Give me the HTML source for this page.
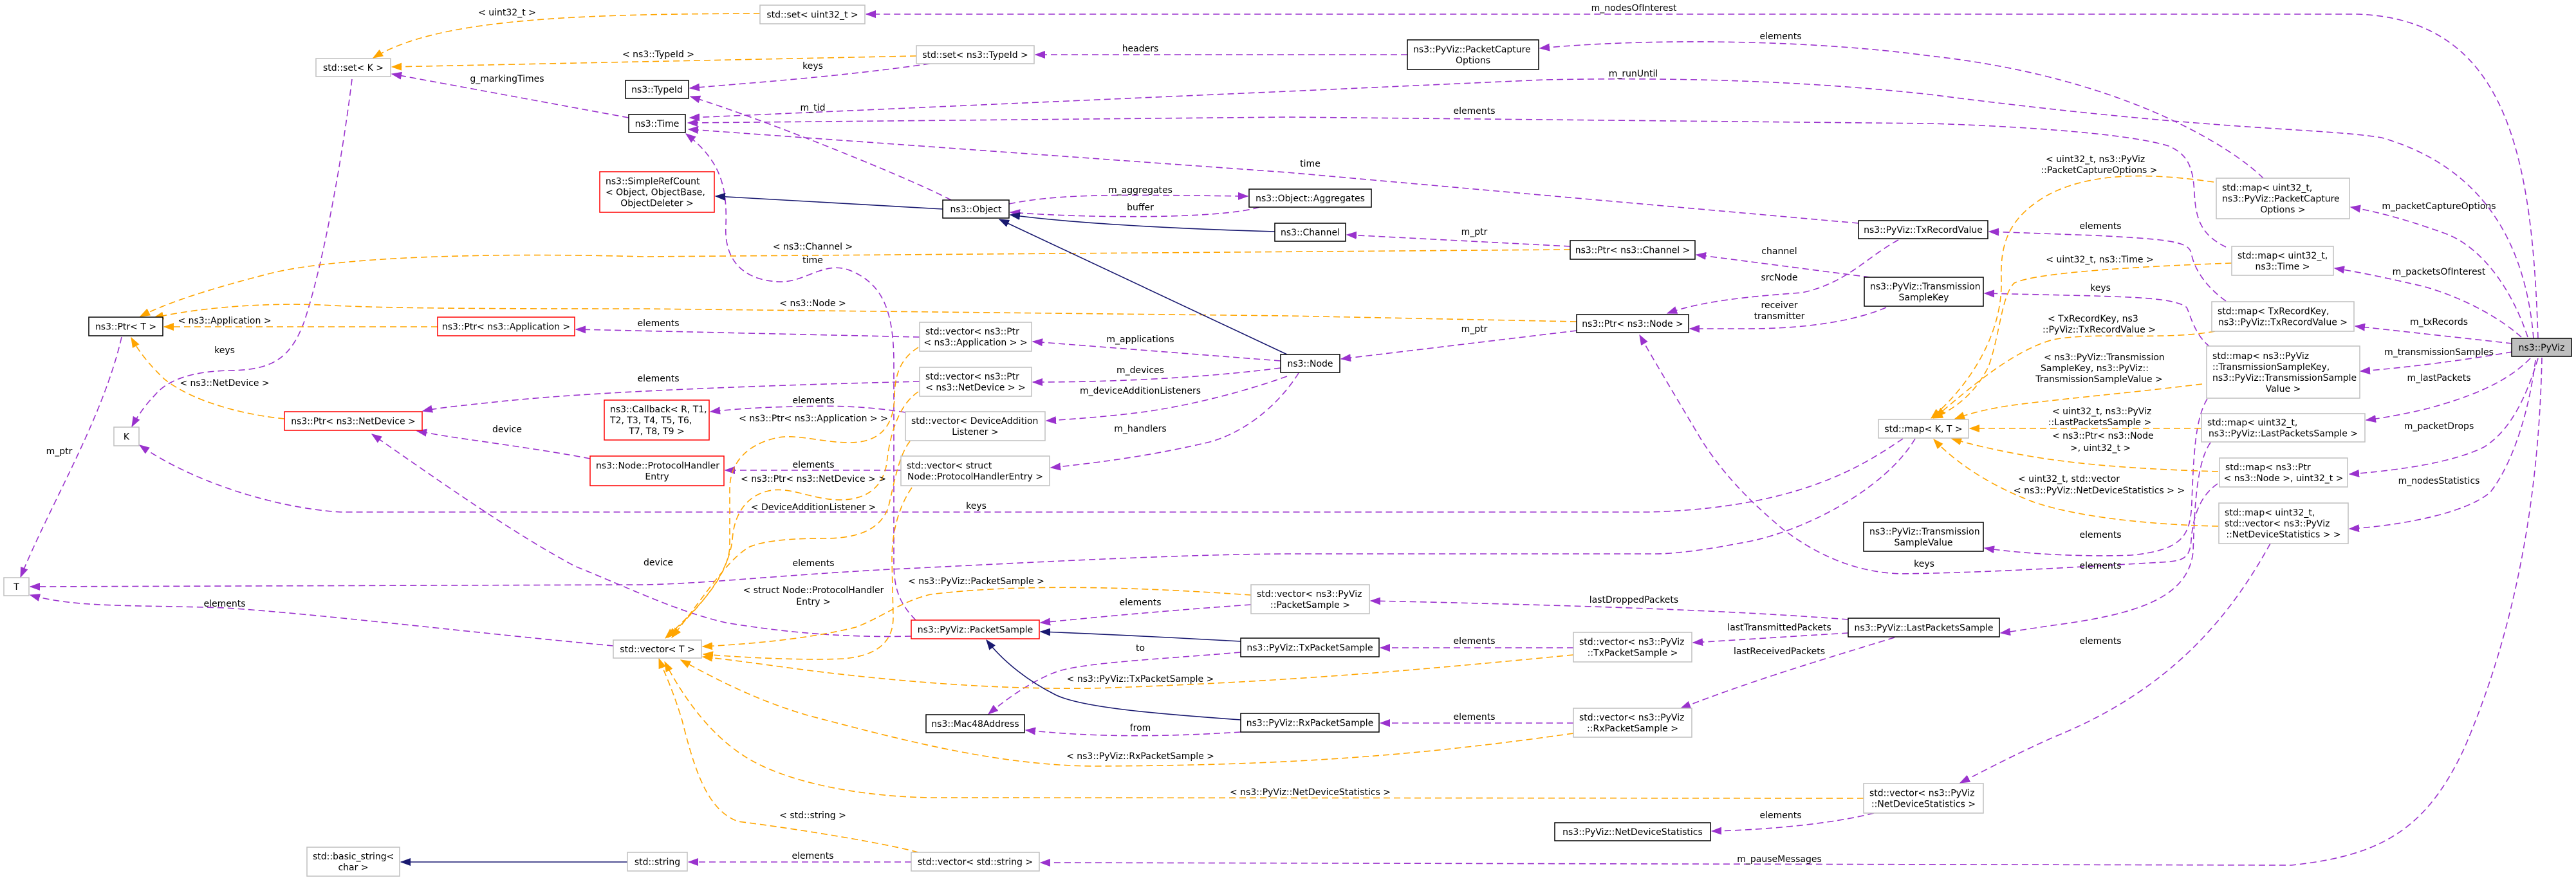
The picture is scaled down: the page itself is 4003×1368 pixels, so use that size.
<!DOCTYPE html>
<html><head><meta charset="utf-8"><style>
html,body{margin:0;padding:0;background:#fff;}
svg{display:block;}
.t{font-family:"DejaVu Sans","Liberation Sans",sans-serif;font-size:14px;fill:#000;}
.c{text-anchor:middle;}
.p{fill:none;stroke:#9a32cd;stroke-width:1.6;stroke-dasharray:10,6;}
.o{fill:none;stroke:#ffa500;stroke-width:1.6;stroke-dasharray:10,6;}
.b{fill:none;stroke:#191970;stroke-width:1.6;}
.g{fill:#fff;stroke:#bfbfbf;stroke-width:1.5;}
.k{fill:#fff;stroke:#000;stroke-width:1.5;}
.r{fill:#fff;stroke:#ff0000;stroke-width:1.5;}
</style></head><body>
<svg width="4003" height="1368" viewBox="0 0 4003 1368" xmlns="http://www.w3.org/2000/svg">
<defs>
<marker id="mp" markerUnits="userSpaceOnUse" markerWidth="16" markerHeight="12" refX="15" refY="6" orient="auto"><path d="M0,0.5 L15,6 L0,11.5 z" fill="#9a32cd" stroke="#9a32cd" stroke-width="1"/></marker>
<marker id="mo" markerUnits="userSpaceOnUse" markerWidth="16" markerHeight="12" refX="15" refY="6" orient="auto"><path d="M0,0.5 L15,6 L0,11.5 z" fill="#ffa500" stroke="#ffa500" stroke-width="1"/></marker>
<marker id="mb" markerUnits="userSpaceOnUse" markerWidth="16" markerHeight="12" refX="15" refY="6" orient="auto"><path d="M0,0.5 L15,6 L0,11.5 z" fill="#191970" stroke="#191970" stroke-width="1"/></marker>
</defs>
<rect x="0" y="0" width="4003" height="1368" fill="#fff"/>

<!-- ===== EDGES ===== -->
<g marker-end="url(#mp)">
<path class="p" d="M3944,526 C3935,250 3900,30 3663,22 L1346,22"/>
<path class="p" d="M977,183 L609,115"/>
<path class="p" d="M1445,99 C1300,120 1150,130 1072,137"/>
<path class="p" d="M1478,311 C1420,280 1200,190 1073,150"/>
<path class="p" d="M3937,526 C3925,380 3860,260 3701,214 C3600,198 3450,205 3000,147 C2800,125 2600,120 2400,124 L2000,142 L1072,183"/>
<path class="p" d="M3459,384 C3420,365 3412,340 3410,300 C3408,260 3400,240 3370,227 C3300,205 3100,195 3000,192 L2000,182 L1069,191"/>
<path class="p" d="M2888,347 L2000,268 L1070,201"/>
<path class="p" d="M1423,964 C1400,940 1390,920 1389,880 L1389,560 C1388,480 1370,440 1320,420 C1280,405 1250,440 1210,438 C1150,435 1125,400 1128,350 C1130,290 1120,250 1066,208"/>
<path class="p" d="M1568,317 C1650,300 1750,303 1939,305"/>
<path class="p" d="M1957,322 C1900,340 1700,340 1570,330"/>
<path class="p" d="M2440,383 L2093,365"/>
<path class="p" d="M189,524 C160,650 80,780 32,897"/>
<path class="p" d="M547,123 C530,260 500,420 472,502 C450,560 420,575 357,576 C300,577 260,590 240,615 C225,630 212,650 205,663"/>
<path class="p" d="M2957,682 C2900,720 2800,790 2561,796 L529,796 C430,790 300,750 217,692"/>
<path class="p" d="M2976,682 C2930,760 2800,830 2700,845 C2650,855 2600,861 2574,861 L2000,861 C1800,862 1500,880 1383,885 C1200,895 1100,907 1000,909 L47,912"/>
<path class="p" d="M953,1004 C700,980 500,955 350,945 C200,940 120,945 47,925"/>
<path class="p" d="M1429,524 L895,512"/>
<path class="p" d="M1429,593 C1150,600 900,610 760,626 C700,632 670,636 657,639"/>
<path class="p" d="M1407,641 C1350,632 1300,630 1240,632 C1180,633 1140,636 1104,640"/>
<path class="p" d="M1400,731 L1127,731"/>
<path class="p" d="M1990,561 L1605,531"/>
<path class="p" d="M1990,572 C1850,590 1700,594 1605,594"/>
<path class="p" d="M2000,585 C1930,610 1850,630 1780,640 C1720,648 1660,652 1626,654"/>
<path class="p" d="M2018,580 C1980,640 1920,680 1867,690 C1780,710 1700,720 1633,727"/>
<path class="p" d="M2450,514 L2084,558"/>
<path class="p" d="M2950,373 C2900,400 2870,440 2800,455 C2700,462 2640,470 2591,487"/>
<path class="p" d="M2931,478 C2880,500 2800,512 2702,511 C2670,511 2640,511 2626,511"/>
<path class="p" d="M2906,431 L2636,396"/>
<path class="p" d="M3446,752 C3420,770 3408,800 3405,840 C3403,870 3390,872 3360,874 C3250,880 3100,890 2955,892 C2880,890 2820,860 2771,823 C2720,780 2680,740 2644,684 C2600,610 2570,560 2548,521"/>
<path class="p" d="M917,713 C850,700 760,688 700,679 C680,676 665,673 648,670"/>
<path class="p" d="M1416,989 C1300,992 1200,980 1128,968 C1050,950 980,915 893,880 C800,830 700,760 578,675"/>
<path class="p" d="M1944,940 C1800,950 1700,960 1617,968"/>
<path class="p" d="M1928,1014 C1800,1025 1680,1030 1640,1045 C1600,1060 1560,1090 1536,1110"/>
<path class="p" d="M1928,1138 C1800,1146 1700,1146 1594,1135"/>
<path class="p" d="M2445,1007 L2145,1007"/>
<path class="p" d="M2445,1124 L2145,1124"/>
<path class="p" d="M2872,963 C2700,950 2500,942 2130,934"/>
<path class="p" d="M2872,984 L2631,999"/>
<path class="p" d="M2944,991 C2850,1020 2730,1055 2612,1101"/>
<path class="p" d="M2912,1264 C2850,1280 2750,1290 2660,1292"/>
<path class="p" d="M1416,1340 L1070,1340"/>
<path class="p" d="M2187,85 L1609,85"/>
<path class="p" d="M3517,277 C3470,230 3300,120 3000,87 C2800,60 2550,60 2393,75"/>
<path class="p" d="M3928,524 C3900,440 3850,380 3797,362 C3750,345 3700,330 3653,322"/>
<path class="p" d="M3918,524 C3880,490 3820,460 3765,445 C3700,430 3660,422 3628,417"/>
<path class="p" d="M3904,534 L3660,507"/>
<path class="p" d="M3904,547 C3800,565 3700,575 3668,577"/>
<path class="p" d="M3932,557 C3900,590 3850,615 3765,637 C3720,647 3700,650 3677,653"/>
<path class="p" d="M3944,557 C3925,620 3900,670 3860,695 C3810,720 3720,732 3651,737"/>
<path class="p" d="M3940,560 C3930,640 3905,720 3870,765 C3830,800 3720,818 3651,822"/>
<path class="p" d="M3950,556 C3945,800 3900,1000 3829,1164 C3770,1290 3700,1330 3561,1345 L1617,1341"/>
<path class="p" d="M3459,468 C3420,440 3408,410 3405,393 C3400,375 3370,372 3255,366 L3091,360"/>
<path class="p" d="M3434,539 C3410,520 3404,490 3398,478 C3380,462 3300,462 3255,460 L3084,456"/>
<path class="p" d="M3430,620 C3412,650 3409,700 3406,780 C3404,830 3395,855 3312,863 C3250,866 3150,862 3084,852"/>
<path class="p" d="M3435,688 C3412,720 3410,800 3408,858 C3400,930 3320,955 3191,972 C3150,978 3125,982 3109,984"/>
<path class="p" d="M3528,845 C3470,950 3380,1070 3191,1146 C3120,1178 3080,1200 3046,1217"/>
</g>

<g marker-end="url(#mo)">
<path class="o" d="M1181,21 C900,22 680,28 580,90"/>
<path class="o" d="M1424,87 L609,104"/>
<path class="o" d="M2440,388 L1000,399 C750,392 520,400 420,425 C330,448 260,470 218,492"/>
<path class="o" d="M2450,500 L2000,491 L1000,480 C800,480 600,480 500,474 C400,470 300,480 239,494"/>
<path class="o" d="M680,508 L255,508"/>
<path class="o" d="M442,651 C380,645 300,625 255,589 C230,565 215,545 204,525"/>
<path class="o" d="M1427,540 C1395,560 1390,590 1390,620 C1388,660 1370,688 1320,688 C1280,688 1240,675 1210,680 C1160,690 1134,720 1134,760 L1134,851 C1130,900 1080,950 1034,992"/>
<path class="o" d="M1427,609 C1395,630 1382,680 1378,720 C1370,770 1330,778 1300,777 C1260,775 1230,758 1200,762 C1160,768 1140,800 1138,840 C1130,900 1080,950 1038,991"/>
<path class="o" d="M1414,686 C1395,710 1388,760 1380,790 C1365,830 1320,837 1280,837 C1230,837 1190,840 1165,850 C1130,870 1100,920 1044,991"/>
<path class="o" d="M1417,758 C1395,790 1386,830 1386,870 L1388,960 C1388,1000 1360,1020 1310,1024 C1250,1027 1150,1022 1093,1017"/>
<path class="o" d="M1944,925 C1800,915 1600,905 1446,924 C1400,935 1370,960 1330,975 C1250,995 1150,1002 1092,1005"/>
<path class="o" d="M2445,1018 C2200,1042 2000,1060 1700,1070 C1550,1072 1400,1060 1255,1042 C1180,1032 1130,1025 1092,1021"/>
<path class="o" d="M2445,1140 C2200,1175 2000,1190 1700,1191 C1550,1190 1400,1150 1255,1112 C1180,1090 1120,1060 1058,1026"/>
<path class="o" d="M2896,1241 L1446,1240 C1330,1238 1220,1215 1159,1177 C1100,1140 1060,1080 1033,1029"/>
<path class="o" d="M1427,1325 C1380,1312 1250,1290 1147,1277 C1100,1260 1080,1200 1060,1120 C1045,1070 1030,1040 1024,1024"/>
<path class="o" d="M3440,283 C3350,270 3250,265 3179,305 C3120,340 3108,380 3110,436 C3112,520 3060,600 3001,650"/>
<path class="o" d="M3468,409 C3300,415 3160,425 3130,440 C3110,460 3108,520 3090,570 C3070,610 3040,635 3004,650"/>
<path class="o" d="M3442,515 C3360,530 3260,515 3190,528 C3130,545 3070,595 3008,648"/>
<path class="o" d="M3422,597 C3300,612 3150,625 3108,633 C3080,638 3060,643 3038,651"/>
<path class="o" d="M3420,666 L3061,666"/>
<path class="o" d="M3447,733 C3350,730 3250,725 3159,710 C3100,700 3060,690 3033,682"/>
<path class="o" d="M3447,818 C3350,816 3230,805 3159,780 C3080,750 3030,710 3005,683"/>
</g>

<g marker-end="url(#mb)">
<path class="b" d="M1465,325 L1112,305"/>
<path class="b" d="M1981,360 C1800,355 1650,345 1570,334"/>
<path class="b" d="M2000,551 L1553,341"/>
<path class="b" d="M1928,997 C1800,990 1700,985 1617,982"/>
<path class="b" d="M1928,1119 C1800,1110 1680,1100 1640,1080 C1600,1060 1560,1030 1533,995"/>
<path class="b" d="M975,1340 L623,1340"/>
</g>

<!-- ===== NODES ===== -->
<g class="t">
<rect class="g" x="1181" y="8" width="163" height="29"/><text class="c" x="1262.5" y="27.5">std::set&lt; uint32_t &gt;</text>
<rect class="g" x="491" y="91" width="116" height="28"/><text class="c" x="549" y="110">std::set&lt; K &gt;</text>
<rect class="g" x="1424" y="71" width="183" height="28"/><text class="c" x="1515.5" y="90">std::set&lt; ns3::TypeId &gt;</text>
<rect class="k" x="972" y="125" width="98" height="28"/><text class="c" x="1021" y="144">ns3::TypeId</text>
<rect class="k" x="977" y="178" width="88" height="28"/><text class="c" x="1021" y="197">ns3::Time</text>
<rect class="r" x="932" y="267" width="178" height="63"/><text x="941" y="286.5">ns3::SimpleRefCount</text><text x="941" y="303.5">&lt; Object, ObjectBase,</text><text class="c" x="1021" y="320.5">ObjectDeleter &gt;</text>
<rect class="k" x="1465" y="311" width="103" height="28"/><text class="c" x="1516.5" y="330">ns3::Object</text>
<rect class="k" x="1941" y="294" width="190" height="28"/><text class="c" x="2036" y="313">ns3::Object::Aggregates</text>
<rect class="k" x="1981" y="347" width="110" height="28"/><text class="c" x="2036" y="366">ns3::Channel</text>
<rect class="k" x="2187" y="62" width="204" height="46"/><text x="2196" y="81.5">ns3::PyViz::PacketCapture</text><text class="c" x="2289" y="98.5">Options</text>
<rect class="k" x="2888" y="343" width="201" height="28"/><text class="c" x="2988.5" y="362">ns3::PyViz::TxRecordValue</text>
<rect class="k" x="2440" y="374" width="194" height="29"/><text class="c" x="2537" y="393.5">ns3::Ptr&lt; ns3::Channel &gt;</text>
<rect class="k" x="2897" y="431" width="185" height="45"/><text x="2906" y="450">ns3::PyViz::Transmission</text><text class="c" x="2989.5" y="467">SampleKey</text>
<rect class="k" x="2450" y="489" width="174" height="28"/><text class="c" x="2537" y="508">ns3::Ptr&lt; ns3::Node &gt;</text>
<rect class="k" x="138" y="493" width="115" height="29"/><text class="c" x="195.5" y="512.5">ns3::Ptr&lt; T &gt;</text>
<rect class="r" x="680" y="493" width="213" height="29"/><text class="c" x="786.5" y="512.5">ns3::Ptr&lt; ns3::Application &gt;</text>
<rect class="g" x="1429" y="501" width="174" height="45"/><text x="1438" y="520">std::vector&lt; ns3::Ptr</text><text class="c" x="1516" y="537">&lt; ns3::Application &gt; &gt;</text>
<rect class="k" x="1990" y="551" width="92" height="28"/><text class="c" x="2036" y="570">ns3::Node</text>
<rect class="g" x="1429" y="571" width="174" height="45"/><text x="1438" y="590">std::vector&lt; ns3::Ptr</text><text class="c" x="1516" y="607">&lt; ns3::NetDevice &gt; &gt;</text>
<rect class="r" x="939" y="622" width="163" height="62"/><text x="948" y="641">ns3::Callback&lt; R, T1,</text><text x="948" y="658">T2, T3, T4, T5, T6,</text><text class="c" x="1020.5" y="675">T7, T8, T9 &gt;</text>
<rect class="g" x="1407" y="640" width="217" height="45"/><text x="1416" y="659">std::vector&lt; DeviceAddition</text><text class="c" x="1515.5" y="676">Listener &gt;</text>
<rect class="r" x="442" y="640" width="214" height="29"/><text class="c" x="549" y="659.5">ns3::Ptr&lt; ns3::NetDevice &gt;</text>
<rect class="g" x="177" y="664" width="39" height="29"/><text class="c" x="196.5" y="683.5">K</text>
<rect class="r" x="917" y="709" width="208" height="46"/><text x="926" y="728.5">ns3::Node::ProtocolHandler</text><text class="c" x="1021" y="745.5">Entry</text>
<rect class="g" x="1400" y="709" width="231" height="46"/><text x="1409" y="728.5">std::vector&lt; struct</text><text class="c" x="1515.5" y="745.5">Node::ProtocolHandlerEntry &gt;</text>
<rect class="g" x="2919" y="652" width="140" height="29"/><text class="c" x="2989" y="671.5">std::map&lt; K, T &gt;</text>
<rect class="g" x="6" y="898" width="39" height="28"/><text class="c" x="25.5" y="917">T</text>
<rect class="k" x="2896" y="812" width="186" height="45"/><text x="2905" y="831">ns3::PyViz::Transmission</text><text class="c" x="2989" y="848">SampleValue</text>
<rect class="g" x="1944" y="909" width="184" height="45"/><text x="1953" y="928">std::vector&lt; ns3::PyViz</text><text class="c" x="2036" y="945">::PacketSample &gt;</text>
<rect class="r" x="1416" y="964" width="199" height="29"/><text class="c" x="1515.5" y="983.5">ns3::PyViz::PacketSample</text>
<rect class="k" x="2872" y="961" width="235" height="29"/><text class="c" x="2989.5" y="980.5">ns3::PyViz::LastPacketsSample</text>
<rect class="g" x="953" y="995" width="137" height="28"/><text class="c" x="1021.5" y="1014">std::vector&lt; T &gt;</text>
<rect class="k" x="1928" y="992" width="215" height="29"/><text class="c" x="2035.5" y="1011.5">ns3::PyViz::TxPacketSample</text>
<rect class="g" x="2445" y="983" width="184" height="46"/><text x="2454" y="1002.5">std::vector&lt; ns3::PyViz</text><text class="c" x="2537" y="1019.5">::TxPacketSample &gt;</text>
<rect class="k" x="1439" y="1111" width="153" height="28"/><text class="c" x="1515.5" y="1130">ns3::Mac48Address</text>
<rect class="k" x="1928" y="1109" width="215" height="29"/><text class="c" x="2035.5" y="1128.5">ns3::PyViz::RxPacketSample</text>
<rect class="g" x="2445" y="1101" width="184" height="45"/><text x="2454" y="1120">std::vector&lt; ns3::PyViz</text><text class="c" x="2537" y="1137">::RxPacketSample &gt;</text>
<rect class="g" x="2896" y="1218" width="186" height="46"/><text x="2905" y="1237.5">std::vector&lt; ns3::PyViz</text><text class="c" x="2989" y="1254.5">::NetDeviceStatistics &gt;</text>
<rect class="k" x="2416" y="1279" width="242" height="28"/><text class="c" x="2537" y="1298">ns3::PyViz::NetDeviceStatistics</text>
<rect class="g" x="477" y="1317" width="144" height="45"/><text x="486" y="1336">std::basic_string&lt;</text><text class="c" x="549" y="1353">char &gt;</text>
<rect class="g" x="975" y="1325" width="93" height="29"/><text class="c" x="1021.5" y="1344.5">std::string</text>
<rect class="g" x="1416" y="1325" width="199" height="29"/><text class="c" x="1515.5" y="1344.5">std::vector&lt; std::string &gt;</text>
<rect class="g" x="3444" y="277" width="207" height="63"/><text x="3453" y="296.5">std::map&lt; uint32_t,</text><text x="3453" y="313.5">ns3::PyViz::PacketCapture</text><text class="c" x="3547.5" y="330.5">Options &gt;</text>
<rect class="g" x="3468" y="383" width="158" height="45"/><text x="3477" y="402">std::map&lt; uint32_t,</text><text class="c" x="3547" y="419">ns3::Time &gt;</text>
<rect class="g" x="3437" y="469" width="221" height="46"/><text x="3446" y="488.5">std::map&lt; TxRecordKey,</text><text class="c" x="3547.5" y="505.5">ns3::PyViz::TxRecordValue &gt;</text>
<rect class="g" x="3429" y="538" width="238" height="81"/><text x="3438" y="558">std::map&lt; ns3::PyViz</text><text x="3438" y="575">::TransmissionSampleKey,</text><text x="3438" y="592">ns3::PyViz::TransmissionSample</text><text class="c" x="3548" y="609">Value &gt;</text>
<rect class="g" x="3421" y="643" width="254" height="44"/><text x="3430" y="661.5">std::map&lt; uint32_t,</text><text class="c" x="3548" y="678.5">ns3::PyViz::LastPacketsSample &gt;</text>
<rect class="g" x="3449" y="712" width="199" height="45"/><text x="3458" y="731">std::map&lt; ns3::Ptr</text><text class="c" x="3548.5" y="748">&lt; ns3::Node &gt;, uint32_t &gt;</text>
<rect class="g" x="3448" y="782" width="201" height="63"/><text x="3457" y="801.5">std::map&lt; uint32_t,</text><text x="3457" y="818.5">std::vector&lt; ns3::PyViz</text><text class="c" x="3548.5" y="835.5">::NetDeviceStatistics &gt; &gt;</text>
<rect x="3903" y="526" width="93" height="28" fill="#bfbfbf" stroke="#000" stroke-width="1.5"/><text class="c" x="3949.5" y="545">ns3::PyViz</text>
</g>

<!-- ===== EDGE LABELS ===== -->
<g class="t">
<text class="c" x="788" y="24">&lt; uint32_t &gt;</text>
<text class="c" x="1023" y="89">&lt; ns3::TypeId &gt;</text>
<text class="c" x="788" y="127">g_markingTimes</text>
<text class="c" x="1263" y="107">keys</text>
<text class="c" x="1263" y="172">m_tid</text>
<text class="c" x="1772" y="80">headers</text>
<text class="c" x="2539" y="17">m_nodesOfInterest</text>
<text class="c" x="2767" y="61">elements</text>
<text class="c" x="2538" y="119">m_runUntil</text>
<text class="c" x="2291" y="177">elements</text>
<text class="c" x="2036" y="259">time</text>
<text class="c" x="1772" y="300">m_aggregates</text>
<text class="c" x="1772" y="327">buffer</text>
<text class="c" x="1263" y="388">&lt; ns3::Channel &gt;</text>
<text class="c" x="1263" y="409">time</text>
<text class="c" x="2291" y="365">m_ptr</text>
<text class="c" x="1263" y="476">&lt; ns3::Node &gt;</text>
<text class="c" x="2765" y="395">channel</text>
<text class="c" x="2765" y="436">srcNode</text>
<text class="c" x="2765" y="479">receiver</text>
<text class="c" x="2765" y="496">transmitter</text>
<text class="c" x="2291" y="516">m_ptr</text>
<text class="c" x="349" y="503">&lt; ns3::Application &gt;</text>
<text class="c" x="1023" y="507">elements</text>
<text class="c" x="1772" y="532">m_applications</text>
<text class="c" x="349" y="549">keys</text>
<text class="c" x="1772" y="580">m_devices</text>
<text class="c" x="1023" y="593">elements</text>
<text class="c" x="349" y="600">&lt; ns3::NetDevice &gt;</text>
<text class="c" x="1772" y="612">m_deviceAdditionListeners</text>
<text class="c" x="1264" y="627">elements</text>
<text class="c" x="1264" y="655">&lt; ns3::Ptr&lt; ns3::Application &gt; &gt;</text>
<text class="c" x="1772" y="671">m_handlers</text>
<text class="c" x="788" y="672">device</text>
<text class="c" x="1264" y="727">elements</text>
<text class="c" x="1264" y="749">&lt; ns3::Ptr&lt; ns3::NetDevice &gt; &gt;</text>
<text class="c" x="1264" y="793">&lt; DeviceAdditionListener &gt;</text>
<text class="c" x="1517" y="791">keys</text>
<text class="c" x="92" y="706">m_ptr</text>
<text class="c" x="1023" y="879">device</text>
<text class="c" x="1264" y="880">elements</text>
<text class="c" x="1517" y="908">&lt; ns3::PyViz::PacketSample &gt;</text>
<text class="c" x="1264" y="922">&lt; struct Node::ProtocolHandler</text>
<text class="c" x="1264" y="940">Entry &gt;</text>
<text class="c" x="349" y="943">elements</text>
<text class="c" x="1772" y="941">elements</text>
<text class="c" x="2539" y="937">lastDroppedPackets</text>
<text class="c" x="1772" y="1012">to</text>
<text class="c" x="1772" y="1060">&lt; ns3::PyViz::TxPacketSample &gt;</text>
<text class="c" x="2291" y="1001">elements</text>
<text class="c" x="2765" y="980">lastTransmittedPackets</text>
<text class="c" x="2765" y="1017">lastReceivedPackets</text>
<text class="c" x="1772" y="1136">from</text>
<text class="c" x="2291" y="1119">elements</text>
<text class="c" x="1772" y="1180">&lt; ns3::PyViz::RxPacketSample &gt;</text>
<text class="c" x="2036" y="1236">&lt; ns3::PyViz::NetDeviceStatistics &gt;</text>
<text class="c" x="2767" y="1272">elements</text>
<text class="c" x="1263" y="1272">&lt; std::string &gt;</text>
<text class="c" x="1263" y="1335">elements</text>
<text class="c" x="2765" y="1340">m_pauseMessages</text>
<text x="3179" y="252">&lt; uint32_t, ns3::PyViz</text>
<text class="c" x="3262" y="269">::PacketCaptureOptions &gt;</text>
<text class="c" x="3264" y="356">elements</text>
<text class="c" x="3263" y="408">&lt; uint32_t, ns3::Time &gt;</text>
<text class="c" x="3264" y="452">keys</text>
<text x="3182" y="500">&lt; TxRecordKey, ns3</text>
<text class="c" x="3262" y="517">::PyViz::TxRecordValue &gt;</text>
<text x="3176" y="560">&lt; ns3::PyViz::Transmission</text>
<text x="3171" y="577">SampleKey, ns3::PyViz::</text>
<text class="c" x="3262" y="594">TransmissionSampleValue &gt;</text>
<text x="3189" y="644">&lt; uint32_t, ns3::PyViz</text>
<text class="c" x="3263" y="661">::LastPacketsSample &gt;</text>
<text x="3189" y="682">&lt; ns3::Ptr&lt; ns3::Node</text>
<text class="c" x="3264" y="701">&gt;, uint32_t &gt;</text>
<text x="3136" y="749">&lt; uint32_t, std::vector</text>
<text class="c" x="3262" y="767">&lt; ns3::PyViz::NetDeviceStatistics &gt; &gt;</text>
<text class="c" x="3264" y="836">elements</text>
<text class="c" x="3264" y="884">elements</text>
<text class="c" x="2990" y="881">keys</text>
<text class="c" x="3264" y="1001">elements</text>
<text class="c" x="3790" y="325">m_packetCaptureOptions</text>
<text class="c" x="3790" y="427">m_packetsOfInterest</text>
<text class="c" x="3790" y="505">m_txRecords</text>
<text class="c" x="3790" y="552">m_transmissionSamples</text>
<text class="c" x="3790" y="592">m_lastPackets</text>
<text class="c" x="3790" y="667">m_packetDrops</text>
<text class="c" x="3790" y="752">m_nodesStatistics</text>
</g>
</svg>
</body></html>
